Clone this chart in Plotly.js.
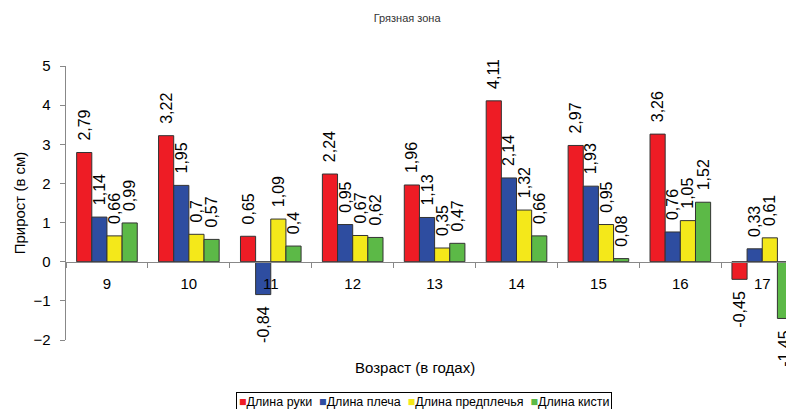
<!DOCTYPE html>
<html>
<head>
<meta charset="utf-8">
<script src="https://cdn.plot.ly/plotly-3.0.1.min.js"></script>
<style>html,body{margin:0;padding:0;background:#fff;}#chart{width:786px;height:409px;}</style>
</head>
<body>
<div id="chart"></div>
<script>
const categories = ['9','10','11','12','13','14','15','16','17'];
const seriesNames = ['Длина руки','Длина плеча','Длина предплечья','Длина кисти'];
const armLength = [2.79, 3.22, 0.65, 2.24, 1.96, 4.11, 2.97, 3.26, -0.45];
const shoulderLength = [1.14, 1.95, -0.84, 0.95, 1.13, 2.14, 1.93, 0.76, 0.33];
const forearmLength = [0.66, 0.7, 1.09, 0.67, 0.35, 1.32, 0.95, 1.05, 0.61];
const handLength = [0.99, 0.57, 0.4, 0.62, 0.47, 0.66, 0.08, 1.52, -1.45];
const colors = ['#EE1C25', '#2E4DA0', '#F4E81A', '#5CB947'];

const allSeries = [armLength, shoulderLength, forearmLength, handLength];
const pad = '\u00a0\u00a0';
const fmt = v => v >= 0 ? pad + String(v).replace('.', ',') : String(v).replace('.', ',') + pad;

const traces = allSeries.map((vals, i) => ({
  type: 'bar',
  name: seriesNames[i],
  x: categories,
  y: vals,
  text: vals.map(fmt),
  textposition: 'outside',
  textangle: -90,
  constraintext: 'none',
  cliponaxis: false,
  textfont: {family: 'Liberation Sans, Arial, sans-serif', size: 16, color: '#000'},
  marker: {color: colors[i], line: {color: '#333', width: 1}},
  hoverinfo: 'none',
  showlegend: false
}));

const legendText = seriesNames.map((n, i) =>
  '<span style="color:' + colors[i] + '">\u25A0</span>' + n).join('\u00a0\u00a0');

const layout = {
  width: 786, height: 409,
  margin: {l: 66, r: 0, t: 66, b: 69},
  paper_bgcolor: '#fff', plot_bgcolor: 'rgba(0,0,0,0)',
  font: {family: 'Liberation Sans, Arial, sans-serif', color: '#000'},
  barmode: 'group',
  bargap: 0.26,
  bargroupgap: 0,
  title: {text: 'Грязная зона', font: {size: 11, color: '#333'}, xref: 'container', x: 0.518, xanchor: 'center', yref: 'container', y: 0.955, yanchor: 'middle'},
  xaxis: {
    type: 'category',
    range: [-0.5, 8.29],
    anchor: 'free', position: 2/7,
    showline: true, linecolor: '#888', linewidth: 1.5,
    ticks: 'outside', ticklen: 5, tickcolor: '#888',
    tickson: 'boundaries',
    ticklabelstandoff: 8,
    tickfont: {size: 15},
    showgrid: false, zeroline: false
  },
  yaxis: {
    range: [-2, 5],
    dtick: 1,
    showline: true, linecolor: '#888', linewidth: 1.5,
    ticks: 'outside', ticklen: 5, tickcolor: '#888',
    ticklabelstandoff: 6,
    tickfont: {size: 15},
    showgrid: false, zeroline: false,
    title: {text: 'Прирост (в см)', font: {size: 15}, standoff: 4}
  },
  annotations: [{
    text: 'Возраст (в годах)', xref: 'paper', yref: 'paper',
    x: 0.485, y: -0.102, xanchor: 'center', yanchor: 'middle',
    showarrow: false, font: {size: 15}
  }, {
    text: legendText, xref: 'paper', yref: 'paper',
    x: 0.497, y: -0.19, xanchor: 'center', yanchor: 'top',
    showarrow: false, font: {size: 12.5},
    bordercolor: '#000', borderwidth: 1, borderpad: 2
  }],
  showlegend: false
};

Plotly.newPlot('chart', traces, layout, {staticPlot: true, displayModeBar: false});
</script>
</body>
</html>
